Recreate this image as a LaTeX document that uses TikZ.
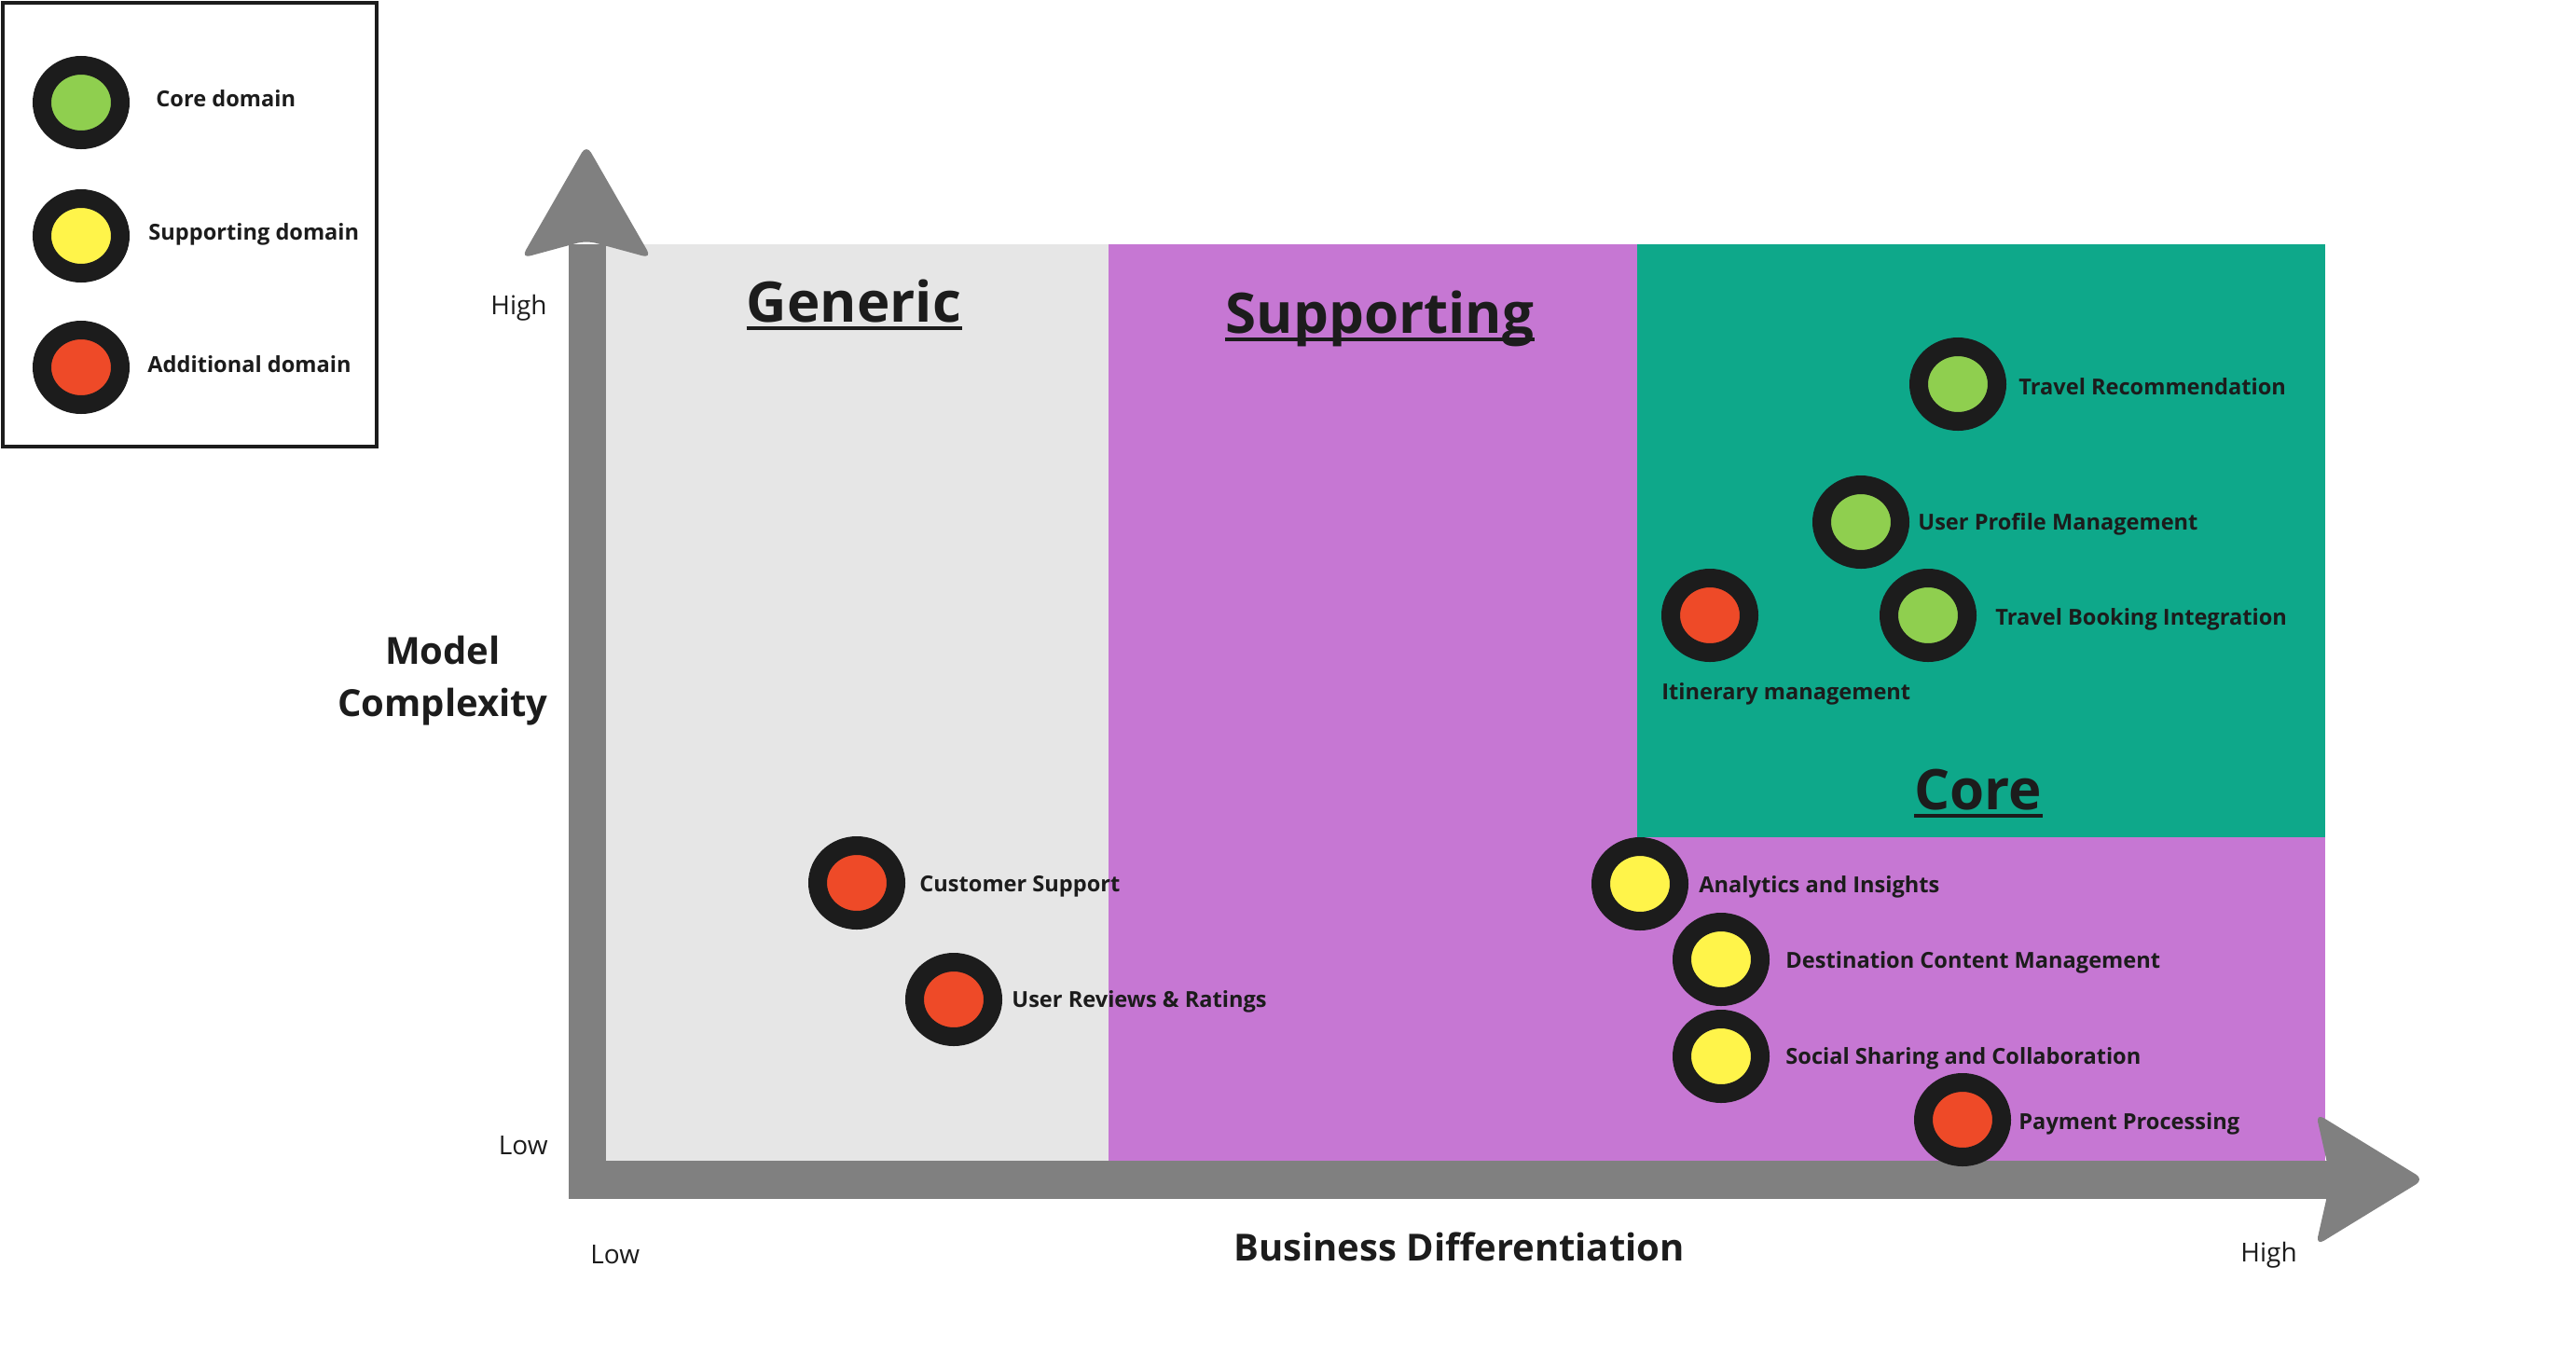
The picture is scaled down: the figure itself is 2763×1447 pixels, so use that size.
\documentclass[tikz,border=0pt]{standalone}
\usepackage{fontspec}
\setmainfont{Open Sans}
\usetikzlibrary{shapes.geometric}
\definecolor{genfill}{HTML}{E6E6E6}
\definecolor{supfill}{HTML}{C677D3}
\definecolor{corefill}{HTML}{0EA88A}
\definecolor{axisgray}{HTML}{808080}
\definecolor{ink}{HTML}{1C1C1C}
\definecolor{coredot}{HTML}{8FCF4F}
\definecolor{supdot}{HTML}{FFF44A}
\definecolor{adddot}{HTML}{EE4A28}
\begin{document}
\begin{tikzpicture}[x=0.5pt,y=-0.5pt,
  dom/.style={ellipse, draw=ink, line width=10pt, minimum width=42pt,
    minimum height=40pt, inner sep=0pt},
  lbl/.style={inner sep=0pt, anchor=west, text=ink,
    font=\bfseries\fontsize{11.8}{14}\selectfont, text height=8.4pt, text depth=0pt},
  axlbl/.style={inner sep=0pt, text=ink,
    font=\fontsize{14}{16}\selectfont, text height=10pt, text depth=0pt},
  axtitle/.style={inner sep=0pt, text=ink, align=center,
    font=\bfseries\fontsize{20}{28}\selectfont},
  zonetitle/.style={inner sep=0pt, anchor=base, text=ink,
    font=\bfseries\fontsize{30}{34}\selectfont},
  uline/.style={draw=ink, line width=2pt}]

% canvas
\fill[white] (0,0) rectangle (2763,1447);
\useasboundingbox (0,0) rectangle (2763,1447);

% legend
\draw[ink, line width=2pt] (3,3) rectangle (404,479);
\node[dom, fill=coredot] (lc) at (87,110) {};
\node[dom, fill=supdot]  (ls) at (87,253) {};
\node[dom, fill=adddot]  (la) at (87,394) {};
\node[lbl] (lct) at (167,106) {Core domain};
\node[lbl] (lst) at (159,249) {Supporting domain};
\node[lbl] (lat) at (158,391) {Additional domain};

% zones
\fill[genfill]  (650,262) rectangle (1189,1245);
\fill[supfill]  (1189,262) rectangle (1756,1245);
\fill[supfill]  (1756,898) rectangle (2494,1245);
\fill[corefill] (1756,262) rectangle (2494,898);

% zone titles
\node[zonetitle] (tgen) at (916,345) {Generic};
\node[zonetitle] (tsup) at (1480,357) {Supporting};
\node[zonetitle] (tcore) at (2122,868) {Core};
\foreach \t in {tgen,tsup,tcore}
  \draw[uline] ([yshift=-3.5pt]\t.base west) -- ([yshift=-3.5pt]\t.base east);

% axes
\fill[axisgray] (610,262) rectangle (650,1286);
\fill[axisgray] (610,1245) rectangle (2500,1286);
\fill[axisgray, rounded corners=5pt]
  (629,155) -- (699,277) -- (629,258) -- (559,277) -- cycle;
\fill[axisgray, rounded corners=5pt]
  (2600,1265) -- (2484,1336) -- (2500,1265) -- (2484,1194) -- cycle;

% axis labels
\node[axlbl, anchor=east] (yhi) at (587,327) {High};
\node[axlbl, anchor=east] (ylo) at (588,1228) {Low};
\node[axlbl, anchor=west] (xlo) at (633,1345) {Low};
\node[axlbl, anchor=west] (xhi) at (2403,1343) {High};
\node[axtitle, anchor=base] (ytitle) at (475,768) {Model\\Complexity};
\node[axtitle, anchor=base] (xtitle) at (1565,1352) {Business Differentiation};

% domains
\node[dom, fill=coredot] (trec) at (2100,412) {};
\node[lbl] (trect) at (2165,415) {Travel Recommendation};
\node[dom, fill=coredot] (upm) at (1996,560) {};
\node[lbl] (upmt) at (2057,560) {User Profile Management};
\node[dom, fill=coredot] (tbi) at (2068,660) {};
\node[lbl] (tbit) at (2140,662) {Travel Booking Integration};
\node[dom, fill=adddot] (itm) at (1834,660) {};
\node[lbl] (itmt) at (1782,742) {Itinerary management};

\node[dom, fill=supdot] (ana) at (1759,948) {};
\node[lbl] (anat) at (1822,949) {Analytics and Insights};
\node[dom, fill=supdot] (dcm) at (1846,1029) {};
\node[lbl] (dcmt) at (1915,1030) {Destination Content Management};
\node[dom, fill=supdot] (ssc) at (1846,1133) {};
\node[lbl] (ssct) at (1915,1133) {Social Sharing and Collaboration};
\node[dom, fill=adddot] (pay) at (2105,1201) {};
\node[lbl] (payt) at (2165,1203) {Payment Processing};

\node[dom, fill=adddot] (cus) at (919,947) {};
\node[lbl] (cust) at (986,948) {Customer Support};
\node[dom, fill=adddot] (urr) at (1023,1072) {};
\node[lbl] (urrt) at (1085,1072) {User Reviews \& Ratings};
\end{tikzpicture}
\end{document}
